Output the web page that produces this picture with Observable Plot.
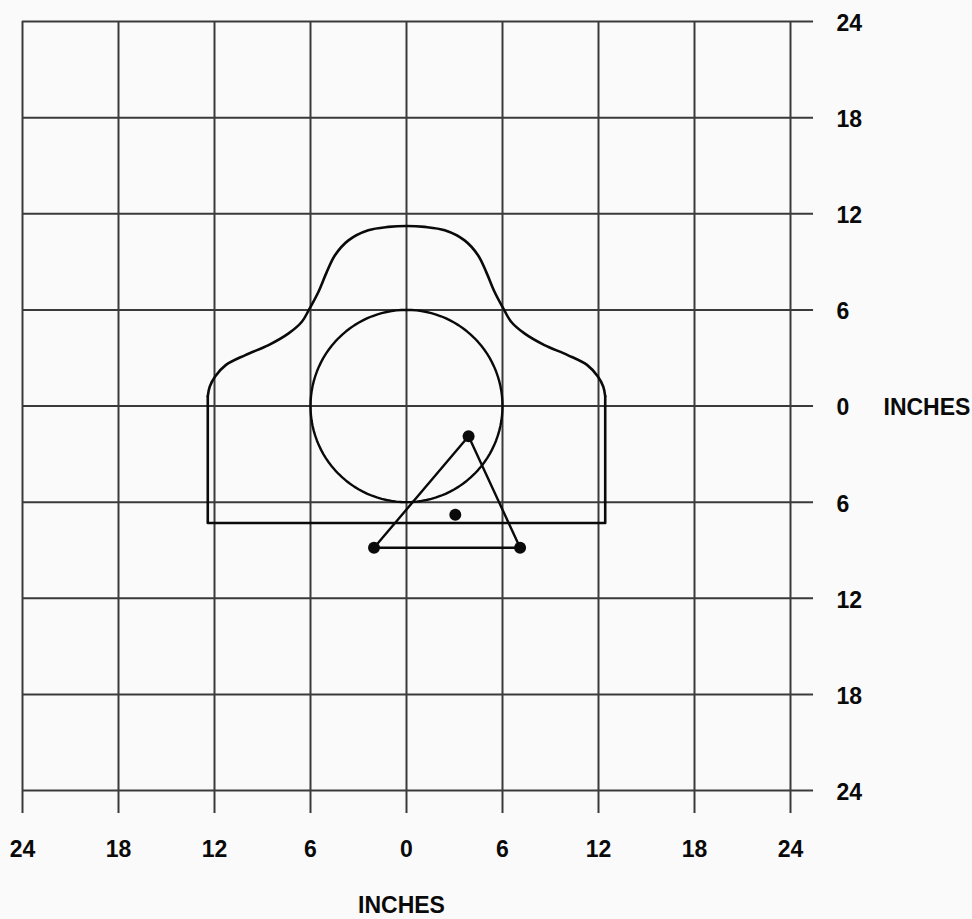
<!DOCTYPE html>
<html><head><meta charset="utf-8">
<script src="https://cdn.jsdelivr.net/npm/d3@7"></script>
<script src="https://cdn.jsdelivr.net/npm/@observablehq/plot@0.6"></script>
<style>html,body{margin:0;padding:0;background:#fafafa;} svg{display:block}</style>
</head><body><div id="chart"></div>
<script>
// ---- data ----
const gridTicks = [-24, -18, -12, -6, 0, 6, 12, 18, 24];
const tickLabels = ["24", "18", "12", "6", "0", "6", "12", "18", "24"];
const axisTitle = "INCHES";

// silhouette outline: curved shoulders + head (left to right)
const silhouetteTopX = [-12.42, -12.3, -11.95, -11.3, -10.07, -8.62, -7.37, -6.54, -6.1, -5.5, -4.98, -4.47, -3.63, -2.39, -1.14, 0,
  1.14, 2.39, 3.63, 4.47, 4.98, 5.5, 6.1, 6.54, 7.37, 8.62, 10.07, 11.3, 11.95, 12.3, 12.42];
const silhouetteTopY = [0.6, 1.2, 1.85, 2.55, 3.18, 3.8, 4.53, 5.26, 6.0, 7.13, 8.37, 9.41, 10.34, 10.97, 11.18, 11.24,
  11.18, 10.97, 10.34, 9.41, 8.37, 7.13, 6.0, 5.26, 4.53, 3.8, 3.18, 2.55, 1.85, 1.2, 0.6];
// silhouette straight sides and base
const silhouetteBaseX = [-12.42, -12.42, 12.42, 12.42];
const silhouetteBaseY = [0.6, -7.3, -7.3, 0.6];

// aiming circle
const circleCenterX = 0, circleCenterY = 0, circleRadius = 6;

// shot triangle and its center
const triangleX = [-2.03, 3.88, 7.10];
const triangleY = [-8.85, -1.89, -8.85];
const centerX = [3.05];
const centerY = [-6.79];

// ---- derived tables ----
const topPts = silhouetteTopX.map((x, i) => ({x, y: silhouetteTopY[i]}));
const basePts = silhouetteBaseX.map((x, i) => ({x, y: silhouetteBaseY[i]}));
const circlePts = d3.range(0, 360, 3).map(a => ({
  x: circleCenterX + circleRadius * Math.cos(a * Math.PI / 180),
  y: circleCenterY + circleRadius * Math.sin(a * Math.PI / 180)
}));
const triPts = triangleX.map((x, i) => ({x, y: triangleY[i]}));
const centerPts = centerX.map((x, i) => ({x, y: centerY[i]}));
const labels = gridTicks.map((v, i) => ({v, t: tickLabels[i]}));

const font = "'Liberation Sans', Arial, Helvetica, sans-serif";
const gridColor = "#3a3a3a";
const ink = "#0a0a0a";

const chart = Plot.plot({
  width: 972,
  height: 919,
  marginLeft: 22,
  marginRight: 182,
  marginTop: 21,
  marginBottom: 129,
  x: {domain: [-24, 24], axis: null},
  y: {domain: [-24, 24], axis: null},
  style: {background: "#fafafa", fontFamily: font},
  marks: [
    Plot.ruleX(gridTicks, {x: d => d, y1: 24, y2: -25.44, stroke: gridColor, strokeWidth: 2}),
    Plot.ruleY(gridTicks, {y: d => d, x1: -24, x2: 25.44, stroke: gridColor, strokeWidth: 2}),
    Plot.line(circlePts, {x: "x", y: "y", curve: "linear-closed", stroke: ink, strokeWidth: 2.4}),
    Plot.line(topPts, {x: "x", y: "y", curve: "catmull-rom", stroke: ink, strokeWidth: 2.6}),
    Plot.line(basePts, {x: "x", y: "y", stroke: ink, strokeWidth: 2.6}),
    Plot.line(triPts, {x: "x", y: "y", curve: "linear-closed", stroke: ink, strokeWidth: 2.4}),
    Plot.dot(triPts, {x: "x", y: "y", r: 6, fill: ink, stroke: "none"}),
    Plot.dot(centerPts, {x: "x", y: "y", r: 6, fill: ink, stroke: "none"}),
    // y tick labels (right side)
    Plot.text(labels, {y: "v", text: "t", frameAnchor: "right", dx: 46, dy: 2, textAnchor: "start",
      fontSize: 23, fontWeight: "bold", fill: ink}),
    // x tick labels (bottom)
    Plot.text(labels, {x: "v", text: "t", frameAnchor: "bottom", dy: 66, textAnchor: "middle",
      fontSize: 23, fontWeight: "bold", fill: ink}),
    // axis titles
    Plot.text([{v: 0, t: axisTitle}], {y: "v", text: "t", frameAnchor: "right", dx: 93, dy: 2, textAnchor: "start",
      fontSize: 23, fontWeight: "bold", fill: ink}),
    Plot.text([{v: 0, t: axisTitle}], {x: "v", text: "t", frameAnchor: "bottom", dx: -5, dy: 122, textAnchor: "middle",
      fontSize: 23, fontWeight: "bold", fill: ink})
  ]
});
document.getElementById("chart").appendChild(chart);
</script>
</body></html>
